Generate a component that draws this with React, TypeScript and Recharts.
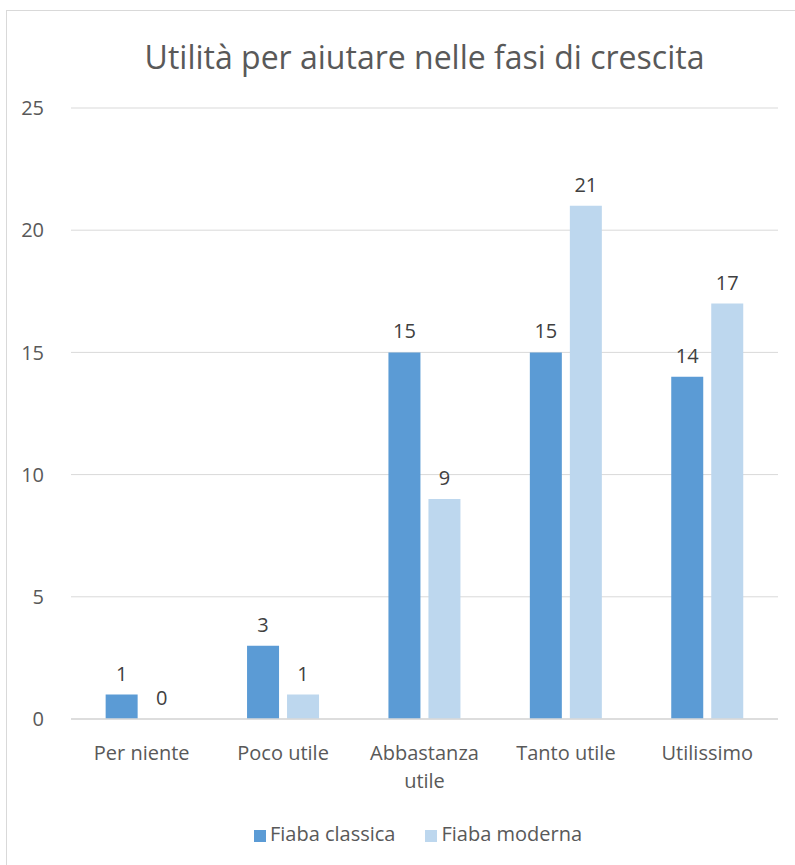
import { BarChart, Bar, XAxis, YAxis, CartesianGrid, LabelList, Legend } from 'recharts'

const categories = ['Per niente', 'Poco utile', 'Abbastanza utile', 'Tanto utile', 'Utilissimo']
const classica = [1, 3, 15, 15, 14]
const moderna = [0, 1, 9, 21, 17]
const yTicks = [0, 5, 10, 15, 20, 25]

const TEXT = '#595959'
const FONT = '"Open Sans", sans-serif'

const data = categories.map((name, i) => ({ name, classica: classica[i], moderna: moderna[i] }))

// long category names break onto two lines, like the original
function CatTick({ x, y, payload }: any) {
  const label: string = payload.value
  const lines = label.length > 12 ? [label.slice(0, label.lastIndexOf(' ')), label.slice(label.lastIndexOf(' ') + 1)] : [label]
  return (
    <text x={x} y={y + 33} textAnchor="middle" fill={TEXT} fontSize={20} fontFamily={FONT}>
      {lines.map((l, i) => (
        <tspan key={i} x={x} dy={i === 0 ? 0 : 28}>{l}</tspan>
      ))}
    </text>
  )
}

// labels drawn by hand so a zero-height bar still gets its "0"
function ValueLabel(props: any) {
  const { x, y, width, value } = props
  return (
    <text x={x + width / 2} y={y - 14} textAnchor="middle" fill="#404040" fontSize={20} fontFamily={FONT}>
      {value}
    </text>
  )
}

export default function App() {
  return (
    <div style={{ position: 'absolute', left: 0, top: 0, width: 795, height: 865, overflow: 'hidden', background: '#fff' }}>
      <div style={{ position: 'absolute', left: 6, top: 10, width: 810, height: 880, border: '1.5px solid #D9D9D9' }} />
      <div style={{ position: 'absolute', left: 71, width: 707, top: 35, textAlign: 'center', fontFamily: FONT, fontSize: 32, color: TEXT }}>
        Utilità per aiutare nelle fasi di crescita
      </div>
      <div style={{ position: 'absolute', left: 0, top: 0 }}>
        <BarChart width={795} height={865} data={data} margin={{ top: 108, right: 17, left: 0, bottom: 59 }} barGap={8} barCategoryGap="24.5%">
          <CartesianGrid vertical={false} stroke="#D9D9D9" />
          <XAxis dataKey="name" tick={<CatTick />} tickLine={false} axisLine={{ stroke: '#D9D9D9', strokeWidth: 1.5 }} interval={0} height={60} />
          <YAxis domain={[0, 25]} ticks={yTicks} width={71} tickLine={false} axisLine={false} tickMargin={21}
            tick={{ fill: TEXT, fontSize: 20, fontFamily: FONT }} />
          <Legend verticalAlign="bottom" iconType="square" iconSize={12}
            wrapperStyle={{ fontFamily: FONT, fontSize: 20, paddingLeft: 44, bottom: 18 }}
            formatter={(v) => <span style={{ color: TEXT, marginRight: 20 }}>{v}</span>} />
          <Bar dataKey="classica" name="Fiaba classica" fill="#5B9BD5" isAnimationActive={false}>
            <LabelList dataKey="classica" content={<ValueLabel />} />
          </Bar>
          <Bar dataKey="moderna" name="Fiaba moderna" fill="#BDD7EE" isAnimationActive={false}
            minPointSize={(v: number) => (v === 0 ? 0.01 : 0)}>
            <LabelList dataKey="moderna" content={<ValueLabel />} />
          </Bar>
        </BarChart>
      </div>
    </div>
  )
}
